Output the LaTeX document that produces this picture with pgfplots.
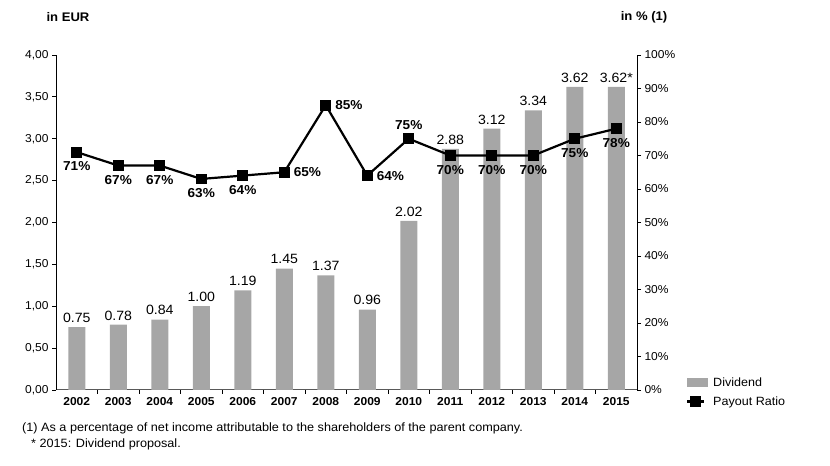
\documentclass[border=0pt]{standalone}
\usepackage{pgfplots}
\pgfplotsset{compat=1.18}
\usepackage{fontspec}
\setmainfont[FakeStretch=1.05]{Liberation Sans}
\definecolor{barcol}{RGB}{166,166,166}
\newcommand{\fs}[1]{\fontsize{#1}{#1}\selectfont}

\begin{document}
\begin{tikzpicture}[x=1bp,y=1bp]
\useasboundingbox (0,0) rectangle (830,466);

% dividend bars, left axis
\begin{axis}[
  at={(56bp,76bp)}, anchor=south west,
  scale only axis, width=581bp, height=335bp,
  ybar, bar width=17bp,
  xmin=-0.5, xmax=13.5, ymin=0, ymax=4,
  axis y line*=left, axis x line*=bottom,
  xtick={0,...,13},
  xticklabels={2002,2003,2004,2005,2006,2007,2008,2009,2010,2011,2012,2013,2014,2015},
  minor xtick={0.5,1.5,...,12.5},
  major x tick style={draw=none},
  ytick={0,0.5,...,4},
  tick align=outside, major tick length=4bp, minor tick length=4bp,
  x tick label style={font=\fs{11.5}\bfseries},
  y tick label style={font=\fs{11.5}},
  yticklabel style={/pgf/number format/.cd, fixed, fixed zerofill, precision=2, use comma, assume math mode=true},
  axis line style={black, line width=1bp},
  x axis line style={black!65, line width=1bp},
  tick style={black, line width=0.8bp},
  nodes near coords={\pgfplotspointmeta},
  point meta=explicit symbolic,
  every node near coord/.append style={font=\fs{13.5}, yshift=1bp},
]
\addplot[fill=barcol, draw=none] coordinates {
(0,0.75)[0.75] (1,0.78)[0.78] (2,0.84)[0.84] (3,1.00)[1.00] (4,1.19)[1.19]
(5,1.45)[1.45] (6,1.37)[1.37] (7,0.96)[0.96] (8,2.02)[2.02] (9,2.88)[2.88]
(10,3.12)[3.12] (11,3.34)[3.34] (12,3.62)[3.62] (13,3.62)[3.62*]
};
\end{axis}

% payout ratio, right axis
\begin{axis}[
  at={(56bp,76bp)}, anchor=south west,
  scale only axis, width=581bp, height=335bp,
  xmin=-0.5, xmax=13.5, ymin=0, ymax=100,
  axis y line*=right, axis x line=none,
  ytick={0,10,...,100},
  yticklabel={\pgfmathprintnumber[assume math mode=true]{\tick}\%},
  tick align=outside, major tick length=4bp,
  y tick label style={font=\fs{11.5}},
  axis line style={black, line width=1bp},
  tick style={black, line width=0.8bp},
  legend style={draw=none, fill=white, font=\fs{12},
    at={(1.077,-0.006)}, anchor=west, row sep=5bp,
    inner xsep=4bp, inner ysep=3bp,
    /tikz/every odd column/.append style={column sep=4bp}},
  legend cell align=left,
]
\addlegendimage{legend image code/.code={\fill[barcol] (0bp,-4bp) rectangle (20bp,4bp);}}
\addlegendentry{Dividend}
\addplot[black, line width=2.2bp, mark=square*, mark size=4.3bp] coordinates {
(0,71) (1,67) (2,67) (3,63) (4,64) (5,65) (6,85) (7,64) (8,75) (9,70) (10,70) (11,70) (12,75) (13,78)
};
\addlegendentry{Payout Ratio}
% labels below the points
\addplot[draw=none, forget plot, nodes near coords={\pgfplotspointmeta\%}, point meta=explicit symbolic,
  every node near coord/.style={anchor=north, yshift=-6bp, font=\fs{13}\bfseries}] coordinates {
(0,71)[71] (1,67)[67] (2,67)[67] (3,63)[63] (4,64)[64] (9,70)[70] (10,70)[70] (11,70)[70] (12,75)[75] (13,78)[78]
};
% labels right of the points
\addplot[draw=none, forget plot, nodes near coords={\pgfplotspointmeta\%}, point meta=explicit symbolic,
  every node near coord/.style={anchor=west, xshift=6bp, font=\fs{13}\bfseries}] coordinates {
(5,65)[65] (6,85)[85] (7,64)[64]
};
% labels above the points
\addplot[draw=none, forget plot, nodes near coords={\pgfplotspointmeta\%}, point meta=explicit symbolic,
  every node near coord/.style={anchor=south, yshift=6bp, font=\fs{13}\bfseries}] coordinates {
(8,75)[75]
};
\end{axis}

\node[font=\fs{12.5}\bfseries] at (68,449) {in EUR};
\node[font=\fs{12.5}\bfseries] at (644,449) {in \% (1)};
\node[anchor=west, font=\fs{12.1}, inner sep=0pt] at (22,38) {(1) As a percentage of net income attributable to the shareholders of the parent company.};
\node[anchor=west, font=\fs{12.1}, inner sep=0pt] at (31,22) {* 2015: Dividend proposal.};
\end{tikzpicture}
\end{document}
